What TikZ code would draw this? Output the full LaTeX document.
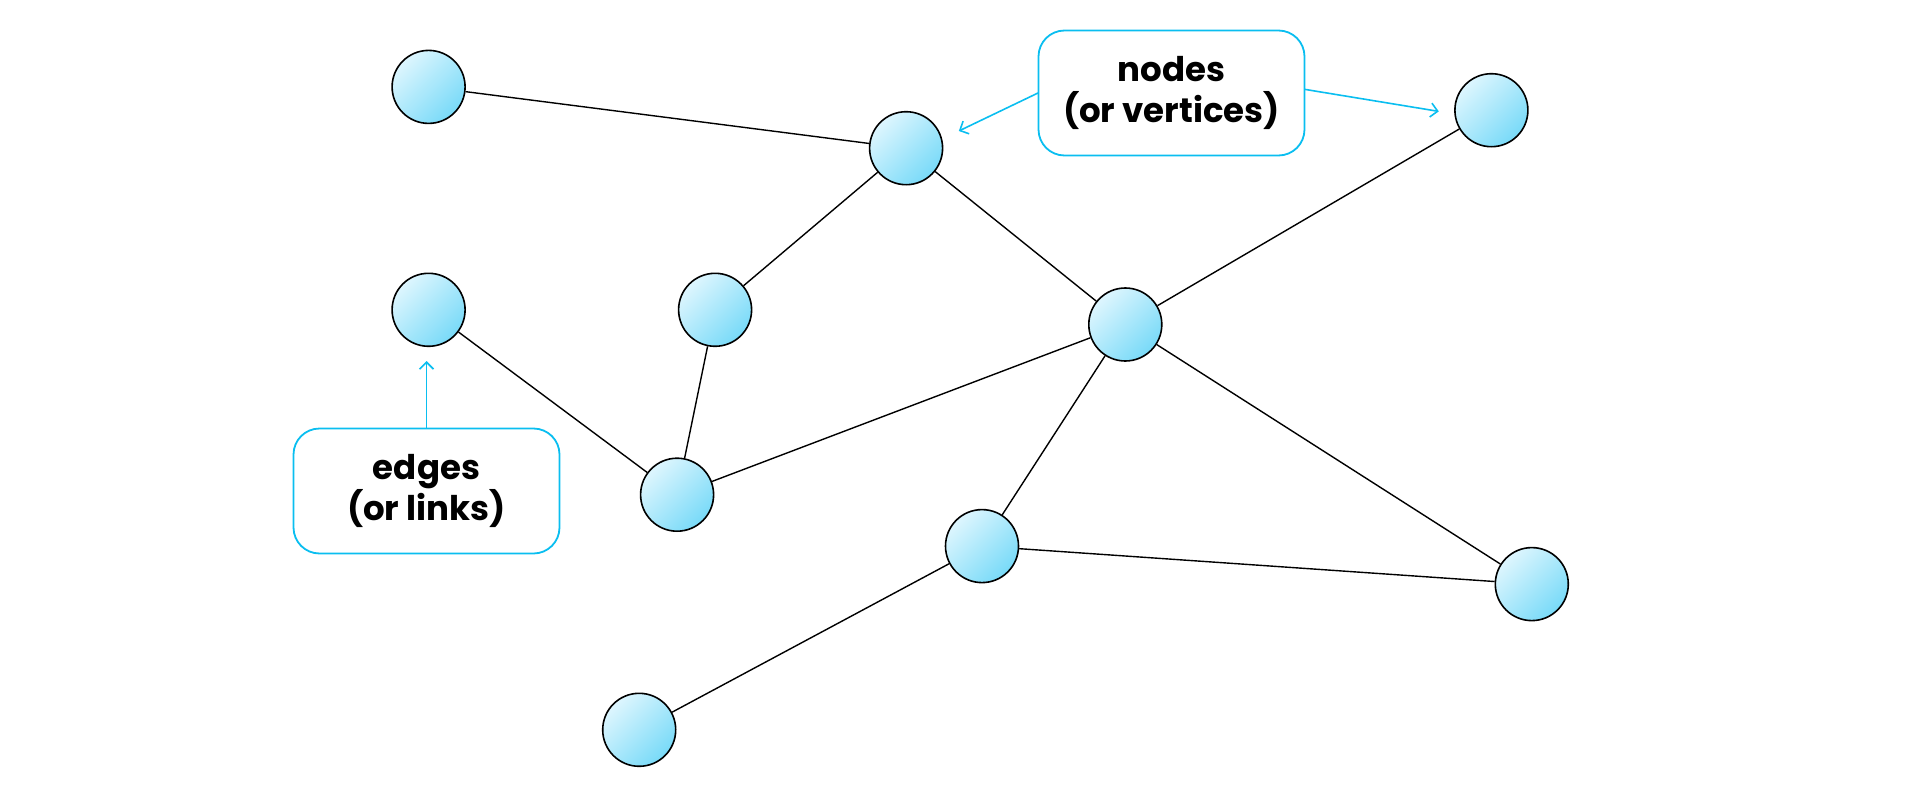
\documentclass[tikz,border=0pt]{standalone}
\usepackage{fontspec}
\setmainfont{Poppins}
\usetikzlibrary{arrows.meta}
\definecolor{cyanline}{RGB}{10,190,240}
\definecolor{nlight}{RGB}{222,246,254}
\definecolor{ndark}{RGB}{120,218,248}
\tikzset{
  vert/.style={circle, draw=black, line width=1.6pt, minimum size=73pt, inner sep=0pt,
    top color=nlight, bottom color=ndark, shading angle=45},
  link/.style={draw=black, line width=1.4pt},
  callout/.style={draw=cyanline, line width=1.8pt, rounded corners=26pt, minimum width=266pt,
    minimum height=125pt, align=center, font=\fontsize{34}{41}\selectfont\bfseries, fill=white},
  pointer/.style={draw=cyanline, line width=1.6pt, -{Straight Barb[length=7pt,width=14pt,line width=1.6pt]}},
}
\begin{document}
\begin{tikzpicture}[x=1pt,y=-1pt]
\useasboundingbox (0,0) rectangle (1920,800);
\node[vert] (A) at (428.6,86.9) {};
\node[vert] (B) at (906.1,148.2) {};
\node[vert] (C) at (1491.4,110.2) {};
\node[vert] (D) at (428.6,309.8) {};
\node[vert] (E) at (715.1,309.8) {};
\node[vert] (F) at (1125.3,324.5) {};
\node[vert] (G) at (677.1,494.7) {};
\node[vert] (H) at (982.0,546.1) {};
\node[vert] (I) at (1531.8,584.1) {};
\node[vert] (J) at (639.2,729.8) {};
\path[link] (A) -- (B);
\path[link] (B) -- (E);
\path[link] (B) -- (F);
\path[link] (F) -- (C);
\path[link] (D) -- (G);
\path[link] (E) -- (G);
\path[link] (G) -- (F);
\path[link] (F) -- (H);
\path[link] (F) -- (I);
\path[link] (H) -- (I);
\path[link] (H) -- (J);
\node[callout] (nodesbox) at (1171.5,93) {nodes\\(or vertices)};
\node[callout] (edgesbox) at (426.5,491) {edges\\(or links)};
\coordinate (p1) at (958.8,131);
\coordinate (p2) at (1438.8,111.4);
\coordinate (p3) at (426.5,361);
\draw[pointer] (1038,93) -- (p1);
\draw[pointer] (1305,89.4) -- (p2);
\draw[pointer] (edgesbox.north) -- (p3);
\end{tikzpicture}
\end{document}
